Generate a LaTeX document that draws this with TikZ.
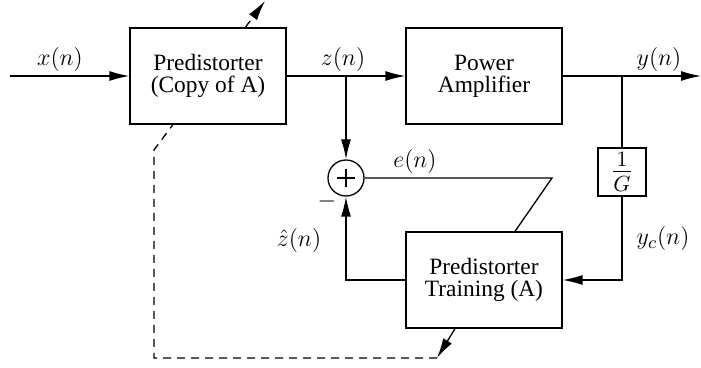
\documentclass[tikz,border=0pt]{standalone}
\usepackage{fontspec}
\setmainfont{Liberation Serif}
\usetikzlibrary{arrows.meta}
\begin{document}
\begin{tikzpicture}[x=0.5pt,y=-0.5pt,
  line width=0.65pt,
  >={Latex[length=10pt,width=5pt]},
  blk/.style={draw,fill=white,minimum width=78pt,minimum height=48pt,align=center,inner sep=0pt,font=\fontsize{11.7}{11}\selectfont},
  lbl/.style={anchor=base,inner sep=0pt,font=\fontsize{13}{15}\selectfont},
  dsh/.style={dash pattern=on 4pt off 3pt}]
\useasboundingbox (0,0) rectangle (701,368);
% dashed adaptation path (drawn first, boxes cover it)
\coordinate (c1) at (437,358);
\coordinate (c2) at (154,358);
\coordinate (c3) at (154,150);
\coordinate (c4) at (265,1);
\draw[dsh,->] (c1) -- (c2) -- (c3) -- (c4);
% blocks
\node[blk] (pred) at (208,76) {Predistorter\\(Copy of A)};
\node[blk] (pa) at (484,76) {Power\\Amplifier};
\node[blk] (train) at (484,280) {Predistorter\\Training (A)};
\node[draw,fill=white,minimum size=24pt,inner sep=0pt,font=\fontsize{16}{18}\selectfont] (inv) at (622,172) {$\frac{1}{G}$};
\node[circle,draw,minimum size=18pt,inner sep=0pt] (sum) at (346,178) {};
\draw (sum.center) +(-9,0) -- +(9,0);
\draw (sum.center) +(0,-9) -- +(0,9);
% coordinates
\coordinate (in) at (10,76);
\coordinate (out) at (701,76);
\coordinate (ek) at (552,178);
\coordinate (tk) at ([xshift=15.5pt]train.north);
\coordinate (bk) at ([xshift=-14.5pt]train.south);
% connectors
\draw[->] (in) -- (pred.west);
\draw[->] (pred.east) -- (pa.west);
\draw[->] (pa.east) -- (out);
\draw[->] (sum |- pred.east) -- (sum.north);
\draw (inv |- pa.east) -- (inv.north);
\draw[->] (inv.south) |- (train.east);
\draw[->] (train.west) -| (sum.south);
\draw (sum.east) -- (ek) -- (tk);
\draw[->] (bk) -- (c1);
% labels
\node[lbl] (lx) at (60,66) {$x(n)$};
\node[lbl] (lz) at (343,66) {$z(n)$};
\node[lbl] (ly) at (659,66) {$y(n)$};
\node[lbl] (le) at (415,168) {$e(n)$};
\node[lbl] (lzh) at (299,247) {$\hat{z}(n)$};
\node[lbl] (lyc) at (663,245) {$y_c(n)$};
\node[inner sep=0pt,text height=1pt,text depth=0pt,font=\fontsize{13}{15}\selectfont] (lm) at (327,207) {$-$};
\end{tikzpicture}
\end{document}
